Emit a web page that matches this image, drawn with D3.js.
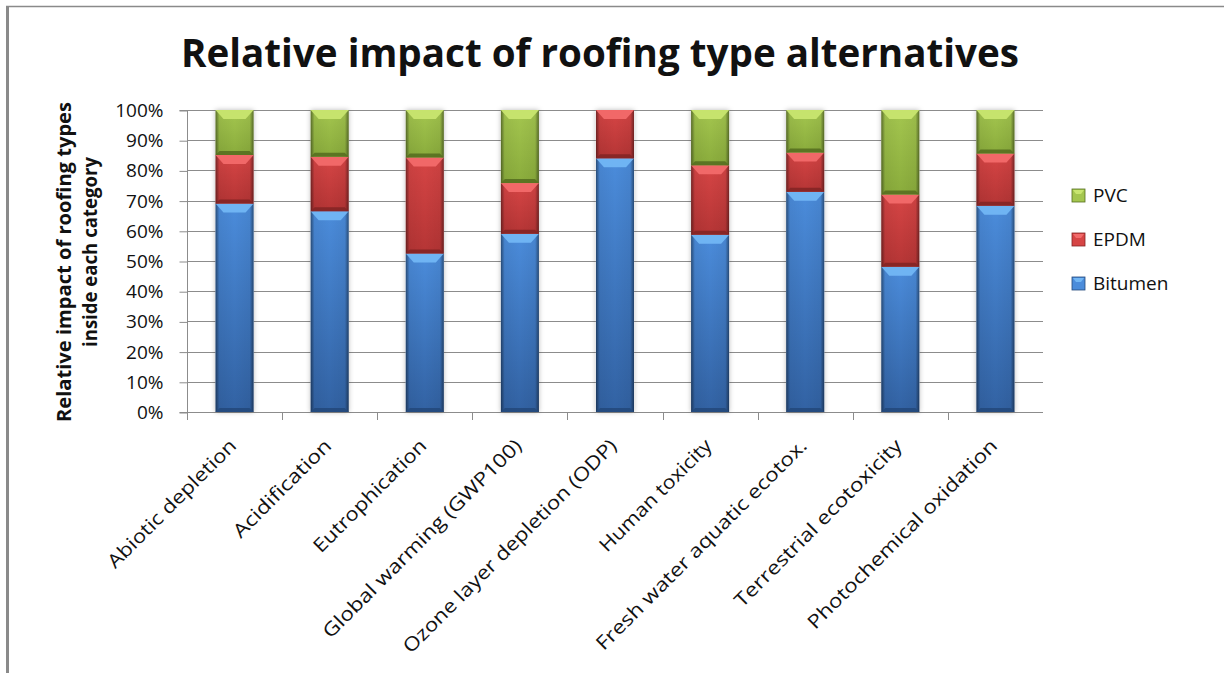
<!DOCTYPE html>
<html>
<head>
<meta charset="utf-8">
<script src="https://cdn.jsdelivr.net/npm/d3@7"></script>
<style>
  html, body { margin: 0; padding: 0; background: #fff; }
  svg { display: block; }
  text { font-family: "Open Sans", "Liberation Sans", sans-serif; fill: #111; }
</style>
</head>
<body>
<svg id="chart" width="1224" height="673"></svg>
<script>
// Impact categories (x axis)
const categories = [
  "Abiotic depletion",
  "Acidification",
  "Eutrophication",
  "Global warming (GWP100)",
  "Ozone layer depletion (ODP)",
  "Human toxicity",
  "Fresh water aquatic ecotox.",
  "Terrestrial ecotoxicity",
  "Photochemical oxidation"
];

// Share of each roofing type within a category, in percent
const bitumen = [69.0, 66.5, 52.5, 59.0, 84.0, 58.7, 72.9, 48.1, 68.3];
const epdm    = [16.1, 18.0, 31.8, 16.8, 16.0, 23.0, 13.0, 23.9, 17.3];
const pvc     = [14.9, 15.5, 15.7, 24.2,  0.0, 18.3, 14.1, 28.0, 14.4];

const seriesNames = ["Bitumen", "EPDM", "PVC"];
const yTicks = [0, 0.1, 0.2, 0.3, 0.4, 0.5, 0.6, 0.7, 0.8, 0.9, 1.0];

const title = "Relative impact of roofing type alternatives";
const yLabelLines = ["Relative impact of roofing types", "inside each category"];

// Colour sets per series: body top, body bottom, top bevel highlight, bottom bevel
const palette = {
  Bitumen: { top: "#4b8cdb", bottom: "#3262a3", hi: "#72b6f4", lo: "#24497c" },
  EPDM:    { top: "#d64545", bottom: "#b53535", hi: "#f26a6a", lo: "#842525" },
  PVC:     { top: "#a4c64f", bottom: "#8aac3c", hi: "#c8e56f", lo: "#566f20" }
};

const svg = d3.select("#chart");
const defs = svg.append("defs");

// Outer frame (top and left edges)
svg.append("line").attr("x1", 6).attr("x2", 1224).attr("y1", 6.5).attr("y2", 6.5)
  .attr("stroke", "#8a8a8a").attr("stroke-width", 1.5);
svg.append("rect").attr("x", 6).attr("y", 6).attr("width", 3).attr("height", 667)
  .attr("fill", "#8a8a8a");

const plot = { left: 187, right: 1043, top: 110, bottom: 412 };

const x = d3.scaleBand()
  .domain(categories)
  .range([plot.left, plot.right])
  .paddingInner(0.6)
  .paddingOuter(0.3);

const y = d3.scaleLinear().domain([0, 1]).range([plot.bottom, plot.top]);

// Horizontal gridlines
svg.append("g").selectAll("line").data(yTicks).join("line")
  .attr("x1", plot.left).attr("x2", plot.right)
  .attr("y1", d => Math.round(y(d)) + 0.5).attr("y2", d => Math.round(y(d)) + 0.5)
  .attr("stroke", "#8c8c8c").attr("stroke-width", 1);

// Y axis
const yAxis = d3.axisLeft(y).tickValues(yTicks).tickFormat(d3.format(".0%"))
  .tickSize(8).tickPadding(16);
const yg = svg.append("g").attr("transform", `translate(${plot.left + 0.5},0.5)`).call(yAxis);
yg.select(".domain").attr("stroke", "#8c8c8c").attr("d", `M-8,${plot.top}H0V${plot.bottom}H-8`);
yg.selectAll(".tick line").attr("stroke", "#8c8c8c");
yg.selectAll(".tick text")
  .attr("font-size", 19).attr("fill", "#1a1a1a")
  .attr("font-family", "'Open Sans', 'Liberation Sans', sans-serif");

// X axis line and category boundary ticks
svg.append("line")
  .attr("x1", plot.left).attr("x2", plot.right)
  .attr("y1", plot.bottom + 0.5).attr("y2", plot.bottom + 0.5)
  .attr("stroke", "#8c8c8c");
svg.append("g").selectAll("line").data(categories).join("line")
  .attr("x1", d => Math.round(x(d) - x.bandwidth() * 0.75) + 0.5)
  .attr("x2", d => Math.round(x(d) - x.bandwidth() * 0.75) + 0.5)
  .attr("y1", plot.bottom).attr("y2", plot.bottom + 8)
  .attr("stroke", "#8c8c8c");

// Category labels, rotated; lengths keep each label's run along the diagonal
const catLen = {
  "Abiotic depletion": 173,
  "Acidification": 130,
  "Eutrophication": 151,
  "Global warming (GWP100)": 272,
  "Ozone layer depletion (ODP)": 293,
  "Human toxicity": 150,
  "Fresh water aquatic ecotox.": 289,
  "Terrestrial ecotoxicity": 228,
  "Photochemical oxidation": 259
};
svg.append("g").selectAll("text").data(categories).join("text")
  .attr("transform", d => `translate(${x(d) + x.bandwidth() / 2 + 3},${plot.bottom + 35}) rotate(-45)`)
  .attr("text-anchor", "end")
  .attr("font-size", 19)
  .attr("fill", "#151515")
  .attr("textLength", d => catLen[d])
  .attr("lengthAdjust", "spacingAndGlyphs")
  .text(d => d);

// Gradients per series
seriesNames.forEach(name => {
  const c = palette[name];
  const g = defs.append("linearGradient").attr("id", "body-" + name)
    .attr("x1", 0).attr("x2", 0).attr("y1", 0).attr("y2", 1);
  g.append("stop").attr("offset", "0%").attr("stop-color", c.top);
  g.append("stop").attr("offset", "100%").attr("stop-color", c.bottom);
});
const side = defs.append("linearGradient").attr("id", "side-shade")
  .attr("x1", 0).attr("x2", 1).attr("y1", 0).attr("y2", 0);
[[0, 0.45], [0.1, 0.05], [0.5, 0], [0.9, 0.05], [1, 0.45]].forEach(([o, a]) =>
  side.append("stop").attr("offset", o).attr("stop-color", "#000").attr("stop-opacity", a));

const shadow = defs.append("filter").attr("id", "bar-shadow")
  .attr("x", "-30%").attr("y", "-5%").attr("width", "160%").attr("height", "110%");
shadow.append("feDropShadow").attr("dx", 0).attr("dy", 0).attr("stdDeviation", 2.5)
  .attr("flood-color", "#000").attr("flood-opacity", 0.28);

// Stacked bars
const rows = categories.map((c, i) => ({
  category: c, Bitumen: bitumen[i] / 100, EPDM: epdm[i] / 100, PVC: pvc[i] / 100
}));
const stacked = d3.stack().keys(seriesNames)(rows);

const bw = x.bandwidth();
const barsG = svg.append("g");

// Shadow silhouettes behind each full bar
barsG.append("g").selectAll("rect").data(rows).join("rect")
  .attr("x", d => x(d.category)).attr("width", bw)
  .attr("y", d => y(d.Bitumen + d.EPDM + d.PVC))
  .attr("height", d => y(0) - y(d.Bitumen + d.EPDM + d.PVC))
  .attr("fill", "#fff").attr("filter", "url(#bar-shadow)");

stacked.forEach(layer => {
  const name = layer.key;
  const c = palette[name];
  const segs = layer.map(d => ({ cat: d.data.category, y0: d[0], y1: d[1] }))
    .filter(d => d.y1 - d.y0 > 0);
  const g = barsG.append("g").attr("class", "series-" + name);
  const seg = g.selectAll("g").data(segs).join("g");

  seg.append("rect")
    .attr("x", d => x(d.cat)).attr("width", bw)
    .attr("y", d => y(d.y1)).attr("height", d => y(d.y0) - y(d.y1))
    .attr("fill", `url(#body-${name})`);
  seg.append("rect")
    .attr("x", d => x(d.cat)).attr("width", bw)
    .attr("y", d => y(d.y1)).attr("height", d => y(d.y0) - y(d.y1))
    .attr("fill", "url(#side-shade)");

  // Top bevel highlight
  seg.append("path")
    .attr("d", d => {
      const x0 = x(d.cat), x1 = x0 + bw, t = y(d.y1), h = 9, s = 8;
      return `M${x0},${t}H${x1}L${x1 - s},${t + h}H${x0 + s}Z`;
    })
    .attr("fill", c.hi).attr("opacity", 0.95);

  // Bottom bevel shade
  seg.append("path")
    .attr("d", d => {
      const x0 = x(d.cat), x1 = x0 + bw, b = y(d.y0), h = 4, s = 4;
      return `M${x0},${b}H${x1}L${x1 - s},${b - h}H${x0 + s}Z`;
    })
    .attr("fill", c.lo).attr("opacity", 0.9);
});

// Legend (PVC on top)
const legendOrder = ["PVC", "EPDM", "Bitumen"];
const lg = svg.append("g").attr("transform", "translate(1072,189)");
const li = lg.selectAll("g").data(legendOrder).join("g")
  .attr("transform", (d, i) => `translate(0,${i * 44})`);
li.append("rect").attr("width", 13).attr("height", 13)
  .attr("fill", d => palette[d].top).attr("stroke", d => palette[d].lo).attr("stroke-width", 0.8);
li.append("path").attr("d", "M1,1H12L9,5H4Z").attr("fill", d => palette[d].hi);
li.append("text").attr("x", 21).attr("y", 13).attr("font-size", 19).text(d => d);

// Title
svg.append("text")
  .attr("x", 600).attr("y", 67)
  .attr("text-anchor", "middle")
  .attr("font-size", 40).attr("font-weight", "bold")
  .attr("textLength", 838).attr("lengthAdjust", "spacingAndGlyphs")
  .text(title);

// Y axis title (two lines)
const yl = svg.append("g").attr("transform", "translate(0,262) rotate(-90)");
yl.append("text").attr("x", 0).attr("y", 71).attr("text-anchor", "middle")
  .attr("font-size", 20).attr("font-weight", "bold")
  .attr("textLength", 320).attr("lengthAdjust", "spacingAndGlyphs")
  .text(yLabelLines[0]);
yl.append("text").attr("x", 10).attr("y", 97).attr("text-anchor", "middle")
  .attr("font-size", 20).attr("font-weight", "bold")
  .attr("textLength", 190).attr("lengthAdjust", "spacingAndGlyphs")
  .text(yLabelLines[1]);
</script>
</body>
</html>
